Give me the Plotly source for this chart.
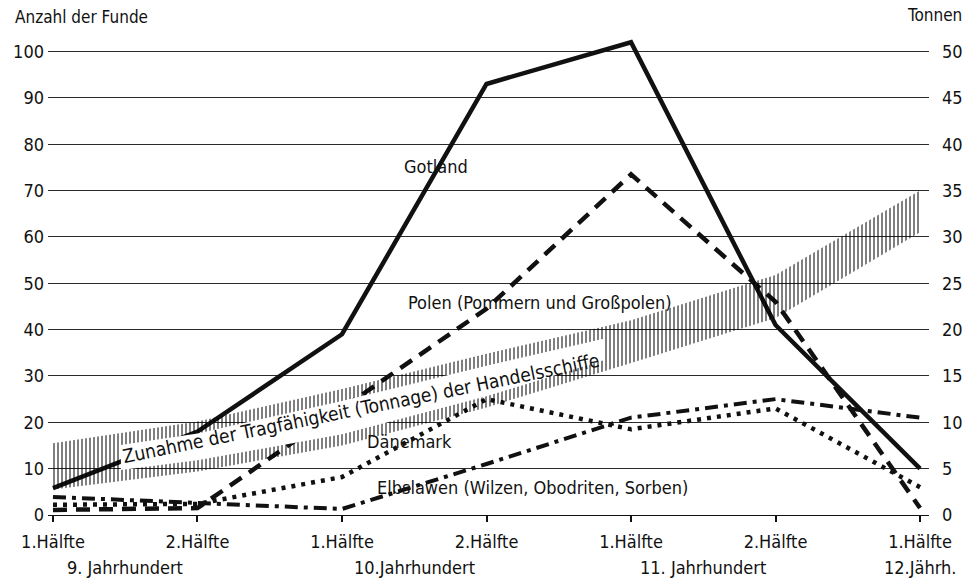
import numpy as np
import plotly.graph_objects as go

# Categories: half-centuries, 9th to 12th century
halves = ["1.Hälfte", "2.Hälfte", "1.Hälfte", "2.Hälfte", "1.Hälfte", "2.Hälfte", "1.Hälfte"]
centuries = ["9. Jahrhundert", "10.Jahrhundert", "11. Jahrhundert", "12.Jährh."]
century_pos = [0.5, 2.5, 4.5, 6]

# Number of finds per region (left axis)
gotland = [5.8, 18, 39, 93, 102, 41, 10]
polen = [1.1, 1.5, 23, 44.5, 73.5, 46, 1.5]
daenemark = [2.2, 2.4, 8.2, 25, 18.5, 23, 6]
elbslawen = [3.9, 2.7, 1.3, 11, 21, 25, 21]

# Carrying capacity of merchant ships in tonnes (right axis), band limits
tonnage_upper = [7.75, 10.1, 13.6, 17.4, 21.0, 25.9, 35.0]
tonnage_lower = [2.75, 4.7, 7.5, 11.6, 16.4, 21.25, 30.5]

x = list(range(len(halves)))

FONT = "DejaVu Sans Condensed, DejaVu Sans, sans-serif"
INK = "#111111"

# open (text-carrying) section of the band and the width of its hatched rims
OPEN_FROM, OPEN_TO = 0.47, 3.81
RIM_TOP, RIM_BOTTOM = 1.3, 1.2

fig = go.Figure()

# hatched tonnage band
fig.add_trace(go.Scatter(x=x, y=tonnage_lower, yaxis="y2", mode="lines",
                         line=dict(width=0), hoverinfo="skip", showlegend=False))
fig.add_trace(go.Scatter(x=x, y=tonnage_upper, yaxis="y2", mode="lines",
                         line=dict(width=0), fill="tonexty",
                         fillpattern=dict(shape="|", size=4, solidity=0.5,
                                          fgcolor="#000000", bgcolor="rgba(0,0,0,0)"),
                         hoverinfo="skip", showlegend=False))

# white interior of the band where the caption runs
xs = [OPEN_FROM] + [v for v in x if OPEN_FROM < v < OPEN_TO] + [OPEN_TO]
in_top = np.interp(xs, x, tonnage_upper) - RIM_TOP
in_bot = np.interp(xs, x, tonnage_lower) + RIM_BOTTOM
fig.add_trace(go.Scatter(x=xs + xs[::-1], y=list(in_top) + list(in_bot[::-1]),
                         yaxis="y2", mode="lines", line=dict(width=0),
                         fill="toself", fillcolor="white",
                         hoverinfo="skip", showlegend=False))

# regional series
series = [
    ("Elbslawen", elbslawen, dict(color=INK, width=4, dash="13px,6px,4px,6px")),
    ("Dänemark", daenemark, dict(color=INK, width=4.5, dash="4px,6px")),
    ("Polen", polen, dict(color=INK, width=4.5, dash="14px,9px")),
    ("Gotland", gotland, dict(color=INK, width=4.5)),
]
for name, vals, ln in series:
    fig.add_trace(go.Scatter(x=x, y=vals, mode="lines", name=name, line=ln,
                             cliponaxis=False, showlegend=False))

labels = [
    ("Gotland", 2.65, 75.2, 0, 18),
    ("Polen (Pommern und Großpolen)", 3.37, 45.8, 0, 18),
    ("Dänemark", 2.47, 15.8, 0, 18),
    ("Elbslawen (Wilzen, Obodriten, Sorben)", 3.32, 6.0, 0, 18),
    ("Zunahme der Tragfähigkeit (Tonnage) der Handelsschiffe", 2.13, 23.0, -11.5, 19),
]
annotations = []
for txt, ax_, ay_, ang, fs in labels:
    annotations.append(dict(text=txt, x=ax_, y=ay_, xref="x", yref="y",
                            showarrow=False, textangle=ang,
                            font=dict(family=FONT, size=fs, color=INK)))

for txt, pos in zip(centuries, century_pos):
    annotations.append(dict(text=txt, x=pos, y=-0.108, xref="x", yref="paper",
                            showarrow=False, xanchor="center", yanchor="middle",
                            font=dict(family=FONT, size=18, color=INK)))

annotations.append(dict(text="Anzahl der Funde", x=-0.04, y=1.033, xref="paper",
                        yref="paper", xanchor="left", yanchor="middle",
                        showarrow=False, font=dict(family=FONT, size=17, color=INK)))
annotations.append(dict(text="Tonnen", x=1.04, y=1.037, xref="paper",
                        yref="paper", xanchor="right", yanchor="middle",
                        showarrow=False, font=dict(family=FONT, size=17, color=INK)))

fig.update_layout(
    width=975, height=582, autosize=False,
    margin=dict(l=48, r=43, t=33, b=67),
    paper_bgcolor="white", plot_bgcolor="white",
    font=dict(family=FONT, size=18, color=INK),
    showlegend=False,
    xaxis=dict(range=[-0.0345, 6.062], tickvals=x, ticktext=halves,
               showgrid=False, zeroline=False, showline=True,
               linecolor=INK, linewidth=1, ticks="outside", ticklen=6,
               tickwidth=1.5, tickcolor=INK, ticklabelstandoff=4),
    yaxis=dict(range=[0, 104], tickvals=list(range(0, 101, 10)),
               showgrid=True, gridcolor="#2a2a2a", gridwidth=1,
               zeroline=False, showline=False, ticks="",
               ticklabelstandoff=3),
    yaxis2=dict(range=[0, 52], tickvals=list(range(0, 51, 5)),
                overlaying="y", side="right", showgrid=False,
                zeroline=False, showline=False, ticks="",
                ticklabelstandoff=12),
    annotations=annotations,
)

fig.write_html("out.html")
